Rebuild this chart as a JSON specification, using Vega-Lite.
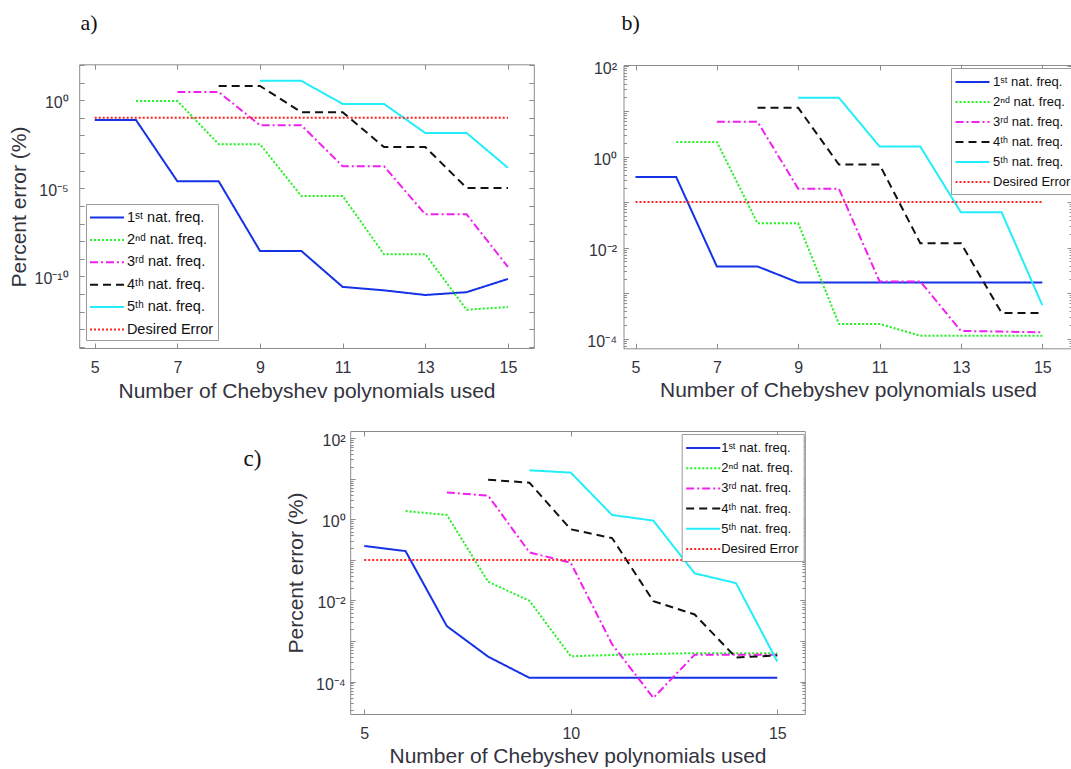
{
  "$schema": "https://vega.github.io/schema/vega-lite/v6.json",
  "width": 1071,
  "height": 769,
  "autosize": {"type": "none"},
  "padding": 0,
  "background": "white",
  "datasets": {
    "pts": [
      {"p":"a","s":"1ˢᵗ nat. freq.","n":5,"e":0.075},
      {"p":"a","s":"1ˢᵗ nat. freq.","n":6,"e":0.075},
      {"p":"a","s":"1ˢᵗ nat. freq.","n":7,"e":2.5e-5},
      {"p":"a","s":"1ˢᵗ nat. freq.","n":8,"e":2.5e-5},
      {"p":"a","s":"1ˢᵗ nat. freq.","n":9,"e":2.75e-9},
      {"p":"a","s":"1ˢᵗ nat. freq.","n":10,"e":2.75e-9},
      {"p":"a","s":"1ˢᵗ nat. freq.","n":11,"e":2.5e-11},
      {"p":"a","s":"1ˢᵗ nat. freq.","n":12,"e":1.6e-11},
      {"p":"a","s":"1ˢᵗ nat. freq.","n":13,"e":8.7e-12},
      {"p":"a","s":"1ˢᵗ nat. freq.","n":14,"e":1.26e-11},
      {"p":"a","s":"1ˢᵗ nat. freq.","n":15,"e":7.1e-11},
      {"p":"a","s":"2ⁿᵈ nat. freq.","n":6,"e":0.91},
      {"p":"a","s":"2ⁿᵈ nat. freq.","n":7,"e":0.91},
      {"p":"a","s":"2ⁿᵈ nat. freq.","n":8,"e":3.2e-3},
      {"p":"a","s":"2ⁿᵈ nat. freq.","n":9,"e":3.2e-3},
      {"p":"a","s":"2ⁿᵈ nat. freq.","n":10,"e":3.6e-6},
      {"p":"a","s":"2ⁿᵈ nat. freq.","n":11,"e":3.6e-6},
      {"p":"a","s":"2ⁿᵈ nat. freq.","n":12,"e":1.8e-9},
      {"p":"a","s":"2ⁿᵈ nat. freq.","n":13,"e":1.8e-9},
      {"p":"a","s":"2ⁿᵈ nat. freq.","n":14,"e":1.26e-12},
      {"p":"a","s":"2ⁿᵈ nat. freq.","n":15,"e":1.8e-12},
      {"p":"a","s":"3ʳᵈ nat. freq.","n":7,"e":2.95},
      {"p":"a","s":"3ʳᵈ nat. freq.","n":8,"e":2.95},
      {"p":"a","s":"3ʳᵈ nat. freq.","n":9,"e":0.038},
      {"p":"a","s":"3ʳᵈ nat. freq.","n":10,"e":0.038},
      {"p":"a","s":"3ʳᵈ nat. freq.","n":11,"e":1.8e-4},
      {"p":"a","s":"3ʳᵈ nat. freq.","n":12,"e":1.8e-4},
      {"p":"a","s":"3ʳᵈ nat. freq.","n":13,"e":3.3e-7},
      {"p":"a","s":"3ʳᵈ nat. freq.","n":14,"e":3.3e-7},
      {"p":"a","s":"3ʳᵈ nat. freq.","n":15,"e":3.4e-10},
      {"p":"a","s":"4ᵗʰ nat. freq.","n":8,"e":6.5},
      {"p":"a","s":"4ᵗʰ nat. freq.","n":9,"e":6.5},
      {"p":"a","s":"4ᵗʰ nat. freq.","n":10,"e":0.21},
      {"p":"a","s":"4ᵗʰ nat. freq.","n":11,"e":0.21},
      {"p":"a","s":"4ᵗʰ nat. freq.","n":12,"e":2.2e-3},
      {"p":"a","s":"4ᵗʰ nat. freq.","n":13,"e":2.2e-3},
      {"p":"a","s":"4ᵗʰ nat. freq.","n":14,"e":1.05e-5},
      {"p":"a","s":"4ᵗʰ nat. freq.","n":15,"e":1.05e-5},
      {"p":"a","s":"5ᵗʰ nat. freq.","n":9,"e":12.6},
      {"p":"a","s":"5ᵗʰ nat. freq.","n":10,"e":12.6},
      {"p":"a","s":"5ᵗʰ nat. freq.","n":11,"e":0.62},
      {"p":"a","s":"5ᵗʰ nat. freq.","n":12,"e":0.62},
      {"p":"a","s":"5ᵗʰ nat. freq.","n":13,"e":0.0138},
      {"p":"a","s":"5ᵗʰ nat. freq.","n":14,"e":0.0138},
      {"p":"a","s":"5ᵗʰ nat. freq.","n":15,"e":1.45e-4},
      {"p":"a","s":"Desired Error","n":5,"e":0.1},
      {"p":"a","s":"Desired Error","n":15,"e":0.1},

      {"p":"b","s":"1ˢᵗ nat. freq.","n":5,"e":0.356},
      {"p":"b","s":"1ˢᵗ nat. freq.","n":6,"e":0.356},
      {"p":"b","s":"1ˢᵗ nat. freq.","n":7,"e":3.84e-3},
      {"p":"b","s":"1ˢᵗ nat. freq.","n":8,"e":3.84e-3},
      {"p":"b","s":"1ˢᵗ nat. freq.","n":9,"e":1.7e-3},
      {"p":"b","s":"1ˢᵗ nat. freq.","n":10,"e":1.7e-3},
      {"p":"b","s":"1ˢᵗ nat. freq.","n":11,"e":1.7e-3},
      {"p":"b","s":"1ˢᵗ nat. freq.","n":12,"e":1.7e-3},
      {"p":"b","s":"1ˢᵗ nat. freq.","n":13,"e":1.7e-3},
      {"p":"b","s":"1ˢᵗ nat. freq.","n":14,"e":1.7e-3},
      {"p":"b","s":"1ˢᵗ nat. freq.","n":15,"e":1.7e-3},
      {"p":"b","s":"2ⁿᵈ nat. freq.","n":6,"e":2.1},
      {"p":"b","s":"2ⁿᵈ nat. freq.","n":7,"e":2.1},
      {"p":"b","s":"2ⁿᵈ nat. freq.","n":8,"e":0.034},
      {"p":"b","s":"2ⁿᵈ nat. freq.","n":9,"e":0.034},
      {"p":"b","s":"2ⁿᵈ nat. freq.","n":10,"e":2.1e-4},
      {"p":"b","s":"2ⁿᵈ nat. freq.","n":11,"e":2.1e-4},
      {"p":"b","s":"2ⁿᵈ nat. freq.","n":12,"e":1.15e-4},
      {"p":"b","s":"2ⁿᵈ nat. freq.","n":13,"e":1.15e-4},
      {"p":"b","s":"2ⁿᵈ nat. freq.","n":14,"e":1.15e-4},
      {"p":"b","s":"2ⁿᵈ nat. freq.","n":15,"e":1.15e-4},
      {"p":"b","s":"3ʳᵈ nat. freq.","n":7,"e":5.8},
      {"p":"b","s":"3ʳᵈ nat. freq.","n":8,"e":5.8},
      {"p":"b","s":"3ʳᵈ nat. freq.","n":9,"e":0.197},
      {"p":"b","s":"3ʳᵈ nat. freq.","n":10,"e":0.197},
      {"p":"b","s":"3ʳᵈ nat. freq.","n":11,"e":1.8e-3},
      {"p":"b","s":"3ʳᵈ nat. freq.","n":12,"e":1.8e-3},
      {"p":"b","s":"3ʳᵈ nat. freq.","n":13,"e":1.47e-4},
      {"p":"b","s":"3ʳᵈ nat. freq.","n":14,"e":1.42e-4},
      {"p":"b","s":"3ʳᵈ nat. freq.","n":15,"e":1.37e-4},
      {"p":"b","s":"4ᵗʰ nat. freq.","n":8,"e":11.8},
      {"p":"b","s":"4ᵗʰ nat. freq.","n":9,"e":11.8},
      {"p":"b","s":"4ᵗʰ nat. freq.","n":10,"e":0.667},
      {"p":"b","s":"4ᵗʰ nat. freq.","n":11,"e":0.667},
      {"p":"b","s":"4ᵗʰ nat. freq.","n":12,"e":0.0125},
      {"p":"b","s":"4ᵗʰ nat. freq.","n":13,"e":0.0125},
      {"p":"b","s":"4ᵗʰ nat. freq.","n":14,"e":3.66e-4},
      {"p":"b","s":"4ᵗʰ nat. freq.","n":15,"e":3.66e-4},
      {"p":"b","s":"5ᵗʰ nat. freq.","n":9,"e":19.6},
      {"p":"b","s":"5ᵗʰ nat. freq.","n":10,"e":19.6},
      {"p":"b","s":"5ᵗʰ nat. freq.","n":11,"e":1.66},
      {"p":"b","s":"5ᵗʰ nat. freq.","n":12,"e":1.66},
      {"p":"b","s":"5ᵗʰ nat. freq.","n":13,"e":0.0594},
      {"p":"b","s":"5ᵗʰ nat. freq.","n":14,"e":0.0594},
      {"p":"b","s":"5ᵗʰ nat. freq.","n":15,"e":5.4e-4},
      {"p":"b","s":"Desired Error","n":5,"e":0.1},
      {"p":"b","s":"Desired Error","n":15,"e":0.1},

      {"p":"c","s":"1ˢᵗ nat. freq.","n":5,"e":0.22},
      {"p":"c","s":"1ˢᵗ nat. freq.","n":6,"e":0.165},
      {"p":"c","s":"1ˢᵗ nat. freq.","n":7,"e":2.32e-3},
      {"p":"c","s":"1ˢᵗ nat. freq.","n":8,"e":4.1e-4},
      {"p":"c","s":"1ˢᵗ nat. freq.","n":9,"e":1.23e-4},
      {"p":"c","s":"1ˢᵗ nat. freq.","n":10,"e":1.23e-4},
      {"p":"c","s":"1ˢᵗ nat. freq.","n":11,"e":1.23e-4},
      {"p":"c","s":"1ˢᵗ nat. freq.","n":12,"e":1.23e-4},
      {"p":"c","s":"1ˢᵗ nat. freq.","n":13,"e":1.23e-4},
      {"p":"c","s":"1ˢᵗ nat. freq.","n":14,"e":1.23e-4},
      {"p":"c","s":"1ˢᵗ nat. freq.","n":15,"e":1.23e-4},
      {"p":"c","s":"2ⁿᵈ nat. freq.","n":6,"e":1.6},
      {"p":"c","s":"2ⁿᵈ nat. freq.","n":7,"e":1.28},
      {"p":"c","s":"2ⁿᵈ nat. freq.","n":8,"e":0.0289},
      {"p":"c","s":"2ⁿᵈ nat. freq.","n":9,"e":9.8e-3},
      {"p":"c","s":"2ⁿᵈ nat. freq.","n":10,"e":4.2e-4},
      {"p":"c","s":"2ⁿᵈ nat. freq.","n":11,"e":4.5e-4},
      {"p":"c","s":"2ⁿᵈ nat. freq.","n":12,"e":4.8e-4},
      {"p":"c","s":"2ⁿᵈ nat. freq.","n":13,"e":5.0e-4},
      {"p":"c","s":"2ⁿᵈ nat. freq.","n":14,"e":5.0e-4},
      {"p":"c","s":"2ⁿᵈ nat. freq.","n":15,"e":5.0e-4},
      {"p":"c","s":"3ʳᵈ nat. freq.","n":7,"e":4.6},
      {"p":"c","s":"3ʳᵈ nat. freq.","n":8,"e":3.84},
      {"p":"c","s":"3ʳᵈ nat. freq.","n":9,"e":0.153},
      {"p":"c","s":"3ʳᵈ nat. freq.","n":10,"e":0.085},
      {"p":"c","s":"3ʳᵈ nat. freq.","n":11,"e":8.3e-4},
      {"p":"c","s":"3ʳᵈ nat. freq.","n":12,"e":3.95e-5},
      {"p":"c","s":"3ʳᵈ nat. freq.","n":13,"e":4.6e-4},
      {"p":"c","s":"3ʳᵈ nat. freq.","n":14,"e":4.6e-4},
      {"p":"c","s":"3ʳᵈ nat. freq.","n":15,"e":4.6e-4},
      {"p":"c","s":"4ᵗʰ nat. freq.","n":8,"e":9.5},
      {"p":"c","s":"4ᵗʰ nat. freq.","n":9,"e":8.0},
      {"p":"c","s":"4ᵗʰ nat. freq.","n":10,"e":0.567},
      {"p":"c","s":"4ᵗʰ nat. freq.","n":11,"e":0.346},
      {"p":"c","s":"4ᵗʰ nat. freq.","n":12,"e":9.6e-3},
      {"p":"c","s":"4ᵗʰ nat. freq.","n":13,"e":4.5e-3},
      {"p":"c","s":"4ᵗʰ nat. freq.","n":14,"e":3.9e-4},
      {"p":"c","s":"4ᵗʰ nat. freq.","n":15,"e":4.4e-4},
      {"p":"c","s":"5ᵗʰ nat. freq.","n":9,"e":16.2},
      {"p":"c","s":"5ᵗʰ nat. freq.","n":10,"e":14.2},
      {"p":"c","s":"5ᵗʰ nat. freq.","n":11,"e":1.28},
      {"p":"c","s":"5ᵗʰ nat. freq.","n":12,"e":0.93},
      {"p":"c","s":"5ᵗʰ nat. freq.","n":13,"e":0.0465},
      {"p":"c","s":"5ᵗʰ nat. freq.","n":14,"e":0.0268},
      {"p":"c","s":"5ᵗʰ nat. freq.","n":15,"e":3.1e-4},
      {"p":"c","s":"Desired Error","n":5,"e":0.1},
      {"p":"c","s":"Desired Error","n":15,"e":0.1}
    ]
  },
  "data": {"name": "pts"},
  "layer": [
    {
      "transform": [{"filter": "datum.p == 'a'"}],
      "layer": [
        {
          "transform": [{"filter": "datum.s != 'Desired Error'"}],
          "mark": {"type": "line", "strokeWidth": 2},
          "encoding": {
            "x": {"field": "n", "type": "quantitative",
              "scale": {"domain": [4.625, 15.625], "range": [79.2, 533.8], "nice": false, "zero": false},
              "axis": {"orient": "bottom", "offset": -421, "values": [5, 7, 9, 11, 13, 15], "tickSize": -5, "labelPadding": 16,
                "title": "Number of Chebyshev polynomials used", "titleX": 306.5, "titleY": 49, "titleAlign": "center", "titleBaseline": "alphabetic", "titleAnchor": null}},
            "y": {"field": "e", "type": "quantitative",
              "scale": {"type": "log", "domain": [8.5e-15, 110], "range": [348, 64.3], "nice": false},
              "axis": {"orient": "left", "offset": -79.2, "tickSize": -5, "labelPadding": 16, "labelBaseline": "middle", "labelOffset": 2.5,
                "values": [1e-14, 1e-13, 1e-12, 1e-11, 1e-10, 1e-9, 1e-8, 1e-7, 1e-6, 1e-5, 1e-4, 1e-3, 1e-2, 1e-1, 1, 10, 100],
                "labelExpr": "datum.value == 1 ? '10⁰' : datum.value == 1e-5 ? '10⁻⁵' : datum.value == 1e-10 ? '10⁻¹⁰' : ''",
                "title": "Percent error (%)", "titleX": -54, "titleY": 206.5, "titleAngle": -90, "titleAlign": "center", "titleBaseline": "alphabetic", "titleAnchor": null}},
            "color": {"field": "s", "type": "nominal",
              "scale": {"domain": ["1ˢᵗ nat. freq.", "2ⁿᵈ nat. freq.", "3ʳᵈ nat. freq.", "4ᵗʰ nat. freq.", "5ᵗʰ nat. freq.", "Desired Error"],
                "range": ["#1632e6", "#2ef02e", "#f020f0", "#111111", "#22eefa", "#ff2222"]},
              "legend": {"orient": "none", "legendX": 86, "legendY": 204, "labelFontSize": 14.5, "padding": 4, "rowPadding": 6.4, "labelOffset": 10.4}},
            "strokeDash": {"field": "s", "type": "nominal",
              "scale": {"domain": ["1ˢᵗ nat. freq.", "2ⁿᵈ nat. freq.", "3ʳᵈ nat. freq.", "4ᵗʰ nat. freq.", "5ᵗʰ nat. freq.", "Desired Error"],
                "range": [[1, 0], [2.2, 1.8], [8, 3, 2, 3], [8, 5], [1, 0], [2, 2]]},
              "legend": {"orient": "none", "legendX": 86, "legendY": 204, "labelFontSize": 14.5, "padding": 4, "rowPadding": 6.4, "labelOffset": 10.4}}
          }
        },
        {
          "transform": [{"filter": "datum.s == 'Desired Error'"}],
          "mark": {"type": "line", "strokeWidth": 2},
          "encoding": {
            "x": {"field": "n", "type": "quantitative",
              "axis": {"orient": "top", "offset": -64.3, "values": [5, 7, 9, 11, 13, 15], "tickSize": -5, "labels": false,
                "title": "a)", "titleX": 80, "titleY": -34.8, "titleAngle": 0, "titleAlign": "left", "titleBaseline": "alphabetic", "titleAnchor": null,
                "titleFont": "Liberation Serif", "titleFontSize": 22, "titleColor": "#111111"}},
            "y": {"field": "e", "type": "quantitative",
              "axis": {"orient": "right", "offset": -537.2, "tickSize": -5, "labels": false, "title": null,
                "values": [1e-14, 1e-13, 1e-12, 1e-11, 1e-10, 1e-9, 1e-8, 1e-7, 1e-6, 1e-5, 1e-4, 1e-3, 1e-2, 1e-1, 1, 10, 100]}},
            "color": {"field": "s", "type": "nominal"},
            "strokeDash": {"field": "s", "type": "nominal"}
          }
        }
      ],
      "resolve": {"axis": {"x": "independent", "y": "independent"}}
    },
    {
      "transform": [{"filter": "datum.p == 'b'"}],
      "layer": [
        {
          "transform": [{"filter": "datum.s != 'Desired Error'"}],
          "mark": {"type": "line", "strokeWidth": 2},
          "encoding": {
            "x": {"field": "n", "type": "quantitative",
              "scale": {"domain": [4.705, 15.73], "range": [623.5, 1072], "nice": false, "zero": false},
              "axis": {"orient": "bottom", "offset": -420.7, "values": [5, 7, 9, 11, 13, 15], "tickSize": -5, "labelPadding": 16,
                "title": "Number of Chebyshev polynomials used", "titleX": 848, "titleY": 48.5, "titleAlign": "center", "titleBaseline": "alphabetic", "titleAnchor": null}},
            "y": {"field": "e", "type": "quantitative",
              "scale": {"type": "log", "domain": [6.1e-5, 103], "range": [348.3, 65], "nice": false},
              "axis": {"orient": "left", "offset": -623.5, "labelPadding": 12, "labelBaseline": "middle", "labelOffset": 2.5,
                "tickSize": {"condition": {"test": "abs(log(datum.value)/LN10 - round(log(datum.value)/LN10)) < 0.001", "value": -5}, "value": -3},
                "values": [0.00007, 0.00008, 0.00009, 0.0001, 0.0002, 0.0003, 0.0004, 0.0005, 0.0006, 0.0007, 0.0008, 0.0009, 0.001, 0.002, 0.003, 0.004, 0.005, 0.006, 0.007, 0.008, 0.009, 0.01, 0.02, 0.03, 0.04, 0.05, 0.06, 0.07, 0.08, 0.09, 0.1, 0.2, 0.3, 0.4, 0.5, 0.6, 0.7, 0.8, 0.9, 1, 2, 3, 4, 5, 6, 7, 8, 9, 10, 20, 30, 40, 50, 60, 70, 80, 90, 100],
                "labelExpr": "datum.value == 100 ? '10²' : datum.value == 1 ? '10⁰' : datum.value == 0.01 ? '10⁻²' : datum.value == 0.0001 ? '10⁻⁴' : ''",
                "title": null}},
            "color": {"field": "s", "type": "nominal",
              "scale": {"domain": ["1ˢᵗ nat. freq.", "2ⁿᵈ nat. freq.", "3ʳᵈ nat. freq.", "4ᵗʰ nat. freq.", "5ᵗʰ nat. freq.", "Desired Error"],
                "range": ["#1632e6", "#2ef02e", "#f020f0", "#111111", "#22eefa", "#ff2222"]},
              "legend": {"orient": "none", "legendX": 951, "legendY": 68, "labelFontSize": 13, "padding": 4.5, "rowPadding": 3, "labelOffset": 11}},
            "strokeDash": {"field": "s", "type": "nominal",
              "scale": {"domain": ["1ˢᵗ nat. freq.", "2ⁿᵈ nat. freq.", "3ʳᵈ nat. freq.", "4ᵗʰ nat. freq.", "5ᵗʰ nat. freq.", "Desired Error"],
                "range": [[1, 0], [2.2, 1.8], [8, 3, 2, 3], [8, 5], [1, 0], [2, 2]]},
              "legend": {"orient": "none", "legendX": 951, "legendY": 68, "labelFontSize": 13, "padding": 4.5, "rowPadding": 3, "labelOffset": 11}}
          }
        },
        {
          "transform": [{"filter": "datum.s == 'Desired Error'"}],
          "mark": {"type": "line", "strokeWidth": 2},
          "encoding": {
            "x": {"field": "n", "type": "quantitative",
              "axis": {"orient": "top", "offset": -65, "values": [5, 7, 9, 11, 13, 15], "tickSize": -5, "labels": false,
                "title": "b)", "titleX": 621, "titleY": -35.5, "titleAngle": 0, "titleAlign": "left", "titleBaseline": "alphabetic", "titleAnchor": null,
                "titleFont": "Liberation Serif", "titleFontSize": 22, "titleColor": "#111111"}},
            "y": {"field": "e", "type": "quantitative",
              "axis": {"orient": "right", "offset": 1, "labels": false, "title": null,
                "tickSize": {"condition": {"test": "abs(log(datum.value)/LN10 - round(log(datum.value)/LN10)) < 0.001", "value": -5}, "value": -3},
                "values": [0.00007, 0.00008, 0.00009, 0.0001, 0.0002, 0.0003, 0.0004, 0.0005, 0.0006, 0.0007, 0.0008, 0.0009, 0.001, 0.002, 0.003, 0.004, 0.005, 0.006, 0.007, 0.008, 0.009, 0.01, 0.02, 0.03, 0.04, 0.05, 0.06, 0.07, 0.08, 0.09, 0.1, 0.2, 0.3, 0.4, 0.5, 0.6, 0.7, 0.8, 0.9, 1, 2, 3, 4, 5, 6, 7, 8, 9, 10, 20, 30, 40, 50, 60, 70, 80, 90, 100]}},
            "color": {"field": "s", "type": "nominal"},
            "strokeDash": {"field": "s", "type": "nominal"}
          }
        }
      ],
      "resolve": {"axis": {"x": "independent", "y": "independent"}}
    },
    {
      "transform": [{"filter": "datum.p == 'c'"}],
      "layer": [
        {
          "transform": [{"filter": "datum.s != 'Desired Error'"}],
          "mark": {"type": "line", "strokeWidth": 2},
          "encoding": {
            "x": {"field": "n", "type": "quantitative",
              "scale": {"domain": [4.66, 15.666], "range": [350.2, 804.8], "nice": false, "zero": false},
              "axis": {"orient": "bottom", "offset": -55, "values": [5, 10, 15], "tickSize": -5, "labelPadding": 16,
                "title": "Number of Chebyshev polynomials used", "titleX": 577.5, "titleY": 48.7, "titleAlign": "center", "titleBaseline": "alphabetic", "titleAnchor": null}},
            "y": {"field": "e", "type": "quantitative",
              "scale": {"type": "log", "domain": [1.58e-5, 151], "range": [714, 431], "nice": false},
              "axis": {"orient": "left", "offset": -350.2, "labelPadding": 10, "labelBaseline": "middle", "labelOffset": 2.5,
                "tickSize": {"condition": {"test": "abs(log(datum.value)/LN10 - round(log(datum.value)/LN10)) < 0.001", "value": -5}, "value": -3},
                "values": [0.00002, 0.00003, 0.00004, 0.00005, 0.00006, 0.00007, 0.00008, 0.00009, 0.0001, 0.0002, 0.0003, 0.0004, 0.0005, 0.0006, 0.0007, 0.0008, 0.0009, 0.001, 0.002, 0.003, 0.004, 0.005, 0.006, 0.007, 0.008, 0.009, 0.01, 0.02, 0.03, 0.04, 0.05, 0.06, 0.07, 0.08, 0.09, 0.1, 0.2, 0.3, 0.4, 0.5, 0.6, 0.7, 0.8, 0.9, 1, 2, 3, 4, 5, 6, 7, 8, 9, 10, 20, 30, 40, 50, 60, 70, 80, 90, 100],
                "labelExpr": "datum.value == 100 ? '10²' : datum.value == 1 ? '10⁰' : datum.value == 0.01 ? '10⁻²' : datum.value == 0.0001 ? '10⁻⁴' : ''",
                "title": "Percent error (%)", "titleX": -47.8, "titleY": 572.5, "titleAngle": -90, "titleAlign": "center", "titleBaseline": "alphabetic", "titleAnchor": null}},
            "color": {"field": "s", "type": "nominal",
              "scale": {"domain": ["1ˢᵗ nat. freq.", "2ⁿᵈ nat. freq.", "3ʳᵈ nat. freq.", "4ᵗʰ nat. freq.", "5ᵗʰ nat. freq.", "Desired Error"],
                "range": ["#1632e6", "#2ef02e", "#f020f0", "#111111", "#22eefa", "#ff2222"]},
              "legend": {"orient": "none", "legendX": 681.7, "legendY": 434, "labelFontSize": 13, "padding": 4.5, "rowPadding": 3.2, "labelOffset": 8.5}},
            "strokeDash": {"field": "s", "type": "nominal",
              "scale": {"domain": ["1ˢᵗ nat. freq.", "2ⁿᵈ nat. freq.", "3ʳᵈ nat. freq.", "4ᵗʰ nat. freq.", "5ᵗʰ nat. freq.", "Desired Error"],
                "range": [[1, 0], [2.2, 1.8], [8, 3, 2, 3], [8, 5], [1, 0], [2, 2]]},
              "legend": {"orient": "none", "legendX": 681.7, "legendY": 434, "labelFontSize": 13, "padding": 4.5, "rowPadding": 3.2, "labelOffset": 8.5}}
          }
        },
        {
          "transform": [{"filter": "datum.s == 'Desired Error'"}],
          "mark": {"type": "line", "strokeWidth": 2},
          "encoding": {
            "x": {"field": "n", "type": "quantitative",
              "axis": {"orient": "top", "offset": -431, "values": [5, 10, 15], "tickSize": -5, "labels": false,
                "title": "c)", "titleX": 243, "titleY": 34.3, "titleAngle": 0, "titleAlign": "left", "titleBaseline": "alphabetic", "titleAnchor": null,
                "titleFont": "Liberation Serif", "titleFontSize": 23, "titleColor": "#111111"}},
            "y": {"field": "e", "type": "quantitative",
              "axis": {"orient": "right", "offset": -266.2, "labels": false, "title": null,
                "tickSize": {"condition": {"test": "abs(log(datum.value)/LN10 - round(log(datum.value)/LN10)) < 0.001", "value": -5}, "value": -3},
                "values": [0.00002, 0.00003, 0.00004, 0.00005, 0.00006, 0.00007, 0.00008, 0.00009, 0.0001, 0.0002, 0.0003, 0.0004, 0.0005, 0.0006, 0.0007, 0.0008, 0.0009, 0.001, 0.002, 0.003, 0.004, 0.005, 0.006, 0.007, 0.008, 0.009, 0.01, 0.02, 0.03, 0.04, 0.05, 0.06, 0.07, 0.08, 0.09, 0.1, 0.2, 0.3, 0.4, 0.5, 0.6, 0.7, 0.8, 0.9, 1, 2, 3, 4, 5, 6, 7, 8, 9, 10, 20, 30, 40, 50, 60, 70, 80, 90, 100]}},
            "color": {"field": "s", "type": "nominal"},
            "strokeDash": {"field": "s", "type": "nominal"}
          }
        }
      ],
      "resolve": {"axis": {"x": "independent", "y": "independent"}}
    }
  ],
  "resolve": {
    "scale": {"x": "independent", "y": "independent", "color": "independent", "strokeDash": "independent"},
    "axis": {"x": "independent", "y": "independent"},
    "legend": {"color": "independent", "strokeDash": "independent"}
  },
  "config": {
    "view": {"stroke": null},
    "axis": {
      "grid": false,
      "domainColor": "#8c8c8c",
      "tickColor": "#8c8c8c",
      "domainWidth": 1,
      "tickWidth": 1,
      "labelFont": "Liberation Sans",
      "labelFontSize": 16,
      "labelColor": "#33333d",
      "titleFont": "Liberation Sans",
      "titleFontSize": 21,
      "titleFontWeight": "normal",
      "titleColor": "#33333d",
      "labelOverlap": false,
      "labelFlush": false,
      "labelBound": false
    },
    "legend": {
      "title": null,
      "symbolType": "M-2,0L2,0",
      "symbolSize": 289,
      "symbolStrokeWidth": 2,
      "symbolOffset": 7.5,
      "symbolFillColor": "transparent",
      "labelFont": "Liberation Sans",
      "labelColor": "#111111",
      "labelLimit": 300,
      "strokeColor": "#9a9a9a",
      "fillColor": "#ffffff"
    }
  }
}
